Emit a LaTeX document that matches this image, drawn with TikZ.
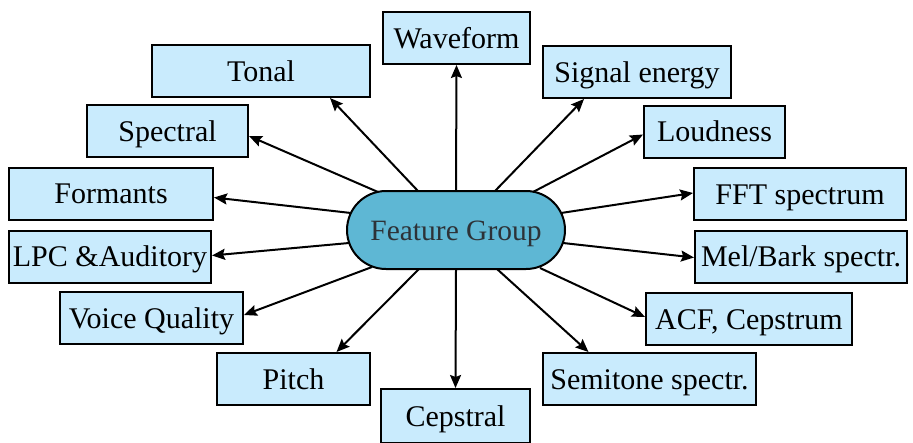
\documentclass[tikz,border=0pt]{standalone}
\usepackage{fontspec}
\setmainfont{Liberation Serif}
\usetikzlibrary{arrows.meta}
\definecolor{boxfill}{RGB}{201,235,253}
\definecolor{centerfill}{RGB}{94,183,212}
\definecolor{centertext}{RGB}{45,50,55}
\tikzset{
  featbox/.style={draw=black, line width=2pt, fill=boxfill, inner sep=0pt,
    minimum height=52pt, text height=20pt, text depth=0pt,
    font=\rmfamily\fontsize{30}{33}\selectfont, text=black},
  hub/.style={draw=black, line width=2pt, fill=centerfill, rounded corners=39pt,
    minimum width=218pt, minimum height=78pt, inner sep=0pt,
    text height=20pt, text depth=0pt,
    font=\rmfamily\fontsize{29.5}{33}\selectfont, text=centertext},
  link/.style={line width=2pt, -{Stealth[length=13pt,width=11pt,inset=2pt]}}
}
\begin{document}
\begin{tikzpicture}[x=1pt,y=-1pt]
\useasboundingbox (0,0) rectangle (913,442);
\node[hub] (fg) at (456,230) {Feature Group};
\node[featbox, minimum width=147pt] (wf) at (456.5,38) {Waveform};
\node[featbox, minimum width=218pt] (tonal) at (261,71) {Tonal};
\node[featbox, minimum width=188pt] (se) at (637,72) {Signal energy};
\node[featbox, minimum width=161pt] (spec) at (167.5,131) {Spectral};
\node[featbox, minimum width=141pt] (loud) at (714.5,131.5) {Loudness};
\node[featbox, minimum width=204pt] (form) at (111,193.5) {Formants};
\node[featbox, minimum width=212pt] (fft) at (800,194) {FFT spectrum};
\node[featbox, minimum width=202pt] (lpc) at (110,256.5) {LPC \&Auditory};
\node[featbox, minimum width=212pt] (mel) at (801,256.5) {Mel/Bark spectr.};
\node[featbox, minimum width=183pt] (vq) at (151.5,318) {Voice Quality};
\node[featbox, minimum width=206pt] (acf) at (749,319) {ACF, Cepstrum};
\node[featbox, minimum width=153pt] (pitch) at (293.5,379) {Pitch};
\node[featbox, minimum width=213pt] (semi) at (649.5,379) {Semitone spectr.};
\node[featbox, minimum width=149pt, minimum height=54pt] (cep) at (455.5,416) {Cepstral};

\draw[link] (fg.north) -- (wf.south);
\draw[link] ([shift={(-38,-39)}]fg.center) -- ([shift={(69,0)}]tonal.south);
\draw[link] ([shift={(39,-39)}]fg.center) -- ([shift={(-53,0)}]se.south);
\draw[link] ([shift={(-78,-38)}]fg.center) -- ([shift={(0,5)}]spec.east);
\draw[link] ([shift={(77,-38)}]fg.center) -- ([shift={(0,3)}]loud.west);
\draw[link] ([shift={(-105,-17)}]fg.center) -- ([shift={(0,4)}]form.east);
\draw[link] ([shift={(105,-17)}]fg.center) -- ([shift={(0,-1)}]fft.west);
\draw[link] ([shift={(-107,13)}]fg.center) -- ([shift={(0,-1)}]lpc.east);
\draw[link] ([shift={(107,13)}]fg.center) -- ([shift={(0,1)}]mel.west);
\draw[link] ([shift={(-84,37)}]fg.center) -- ([shift={(0,-3)}]vq.east);
\draw[link] ([shift={(84,38)}]fg.center) -- ([shift={(0,-2)}]acf.west);
\draw[link] ([shift={(-37,39)}]fg.center) -- ([shift={(43,0)}]pitch.north);
\draw[link] ([shift={(41,39)}]fg.center) -- ([shift={(-61,0)}]semi.north);
\draw[link] (fg.south) -- (cep.north);
\end{tikzpicture}
\end{document}
